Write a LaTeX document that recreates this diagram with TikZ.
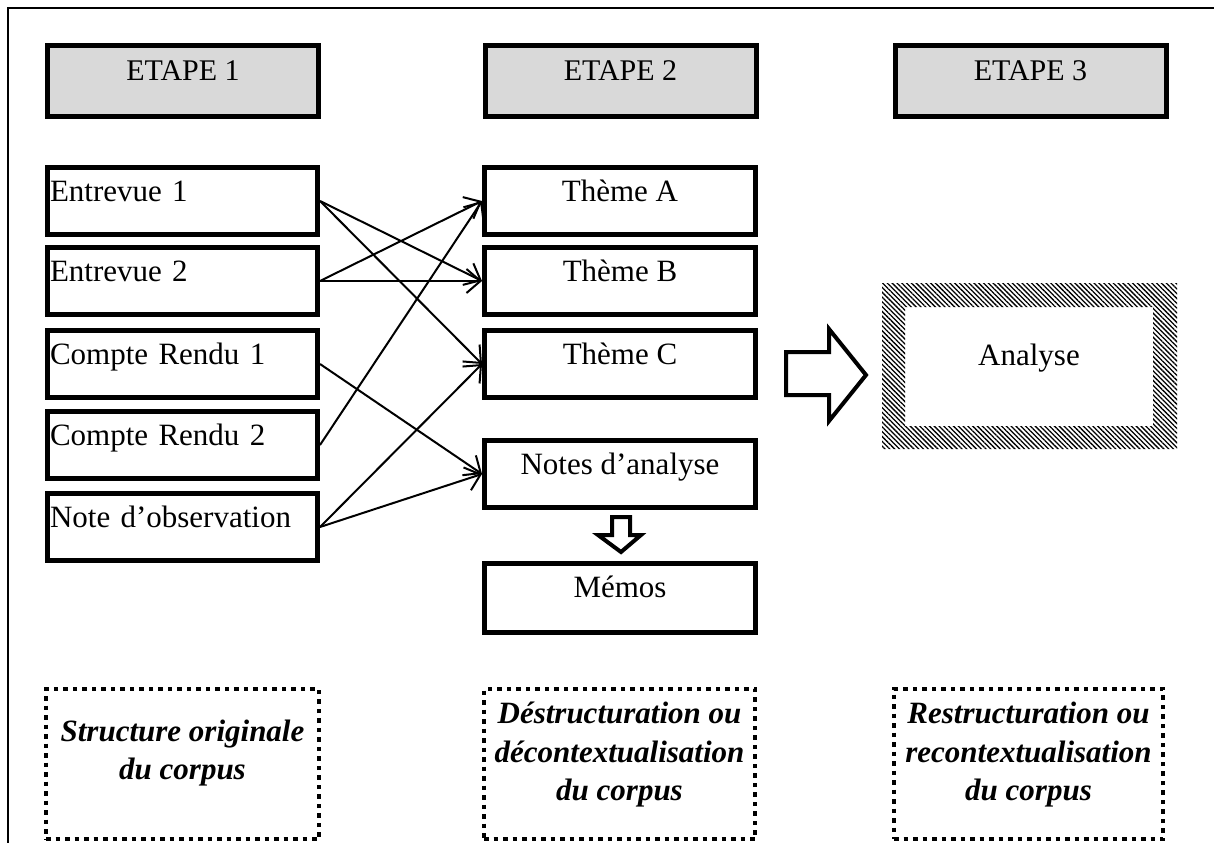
\documentclass[tikz,border=0pt]{standalone}
\usepackage{fontspec}
\setmainfont{Liberation Serif}
\usetikzlibrary{arrows.meta,patterns.meta}
\definecolor{etapegray}{HTML}{D9D9D9}
\newcommand{\fsz}{\fontsize{31}{36}\selectfont}
\tikzset{
  basebox/.style={draw, line width=5pt, inner ysep=0pt, text height=33.5pt, text depth=33.5pt, font=\fsz},
  leftbox/.style={basebox, text width=265pt, inner xsep=2.5pt, align=left},
  midbox/.style={basebox, minimum width=271pt, inner xsep=0pt},
  etapebox/.style={draw, line width=5pt, fill=etapegray, minimum width=271pt, inner sep=0pt, text height=35.5pt, text depth=35.5pt, font=\fontsize{30}{36}\selectfont},
  dotbox/.style={draw, line width=4.5pt, dash pattern=on 4.5pt off 5pt, minimum height=150pt, inner sep=0pt},
  dottext/.style={font=\fontsize{31}{38.5}\selectfont\bfseries\itshape, align=center, inner sep=0pt},
  conn/.style={line width=2pt, -{Straight Barb[length=14pt,width=24pt]}},
  blockarrow/.style={draw, line width=4pt, fill=white, line join=miter},
}
\begin{document}
\begin{tikzpicture}[x=1pt,y=-1pt]
\useasboundingbox (0,0) rectangle (1214,843);
% frame
\draw[line width=2pt] (1214,8) -- (8,8) -- (8,843);
% etapes
\node[etapebox] (et1) at (183,81) {ETAPE 1};
\node[etapebox] (et2) at (620.5,81) {ETAPE 2};
\node[etapebox] (et3) at (1030.5,81) {ETAPE 3};
% left column
\node[leftbox] (e1) at (182.5,201) {Entrevue 1};
\node[leftbox] (e2) at (182.5,281) {Entrevue 2};
\node[leftbox] (cr1) at (182.5,364) {Compte Rendu 1};
\node[leftbox] (cr2) at (182.5,445) {Compte Rendu 2};
\node[leftbox] (no) at (182.5,527) {Note d’observation};
% middle column
\node[midbox] (ta) at (620,201) {Thème A};
\node[midbox] (tb) at (620,281) {Thème B};
\node[midbox] (tc) at (620,364) {Thème C};
\node[midbox] (na) at (620,474) {Notes d’analyse};
\node[midbox, text depth=35.5pt] (me) at (620,598) {Mémos};
% connectors
\draw[conn] (e1.east) -- (tb.west);
\draw[conn] (e1.east) -- (tc.west);
\draw[conn] (e2.east) -- (ta.west);
\draw[conn] (e2.east) -- (tb.west);
\draw[conn] (cr1.east) -- (na.west);
\draw[conn] (cr2.east) -- (ta.west);
\draw[conn] (no.east) -- (tc.west);
\draw[conn] (no.east) -- (na.west);
% small down block arrow
\draw[blockarrow] (612,517) -- (630,517) -- (630,535) -- (641,535) -- (621,552) -- (598,535) -- (612,535) -- cycle;
% big right block arrow
\draw[blockarrow] (786,352) -- (829,352) -- (829,329) -- (866,375) -- (829,421) -- (829,395) -- (786,395) -- cycle;
% hatched frame
\fill[pattern={Lines[angle=-45,distance=3.4pt,line width=1.3pt]}, even odd rule]
  (882,283) rectangle (1177,449) (905,307) rectangle (1153,426);
\node[inner sep=0pt, font=\fontsize{31}{36}\selectfont, anchor=base] (an) at (1029,365) {Analyse};
% dotted boxes
\node[dotbox, minimum width=273pt] (d1) at (182.5,764) {};
\node[dotbox, minimum width=271pt] (d2) at (619.5,764) {};
\node[dotbox, minimum width=269pt] (d3) at (1028.5,764) {};
\node[dottext] (t1) at (182.5,753) {Structure originale\\du corpus};
\node[dottext] (t2) at (619.5,755) {Déstructuration ou\\décontextualisation\\du corpus};
\node[dottext] (t3) at (1028.5,755) {Restructuration ou\\recontextualisation\\du corpus};
\end{tikzpicture}
\end{document}
